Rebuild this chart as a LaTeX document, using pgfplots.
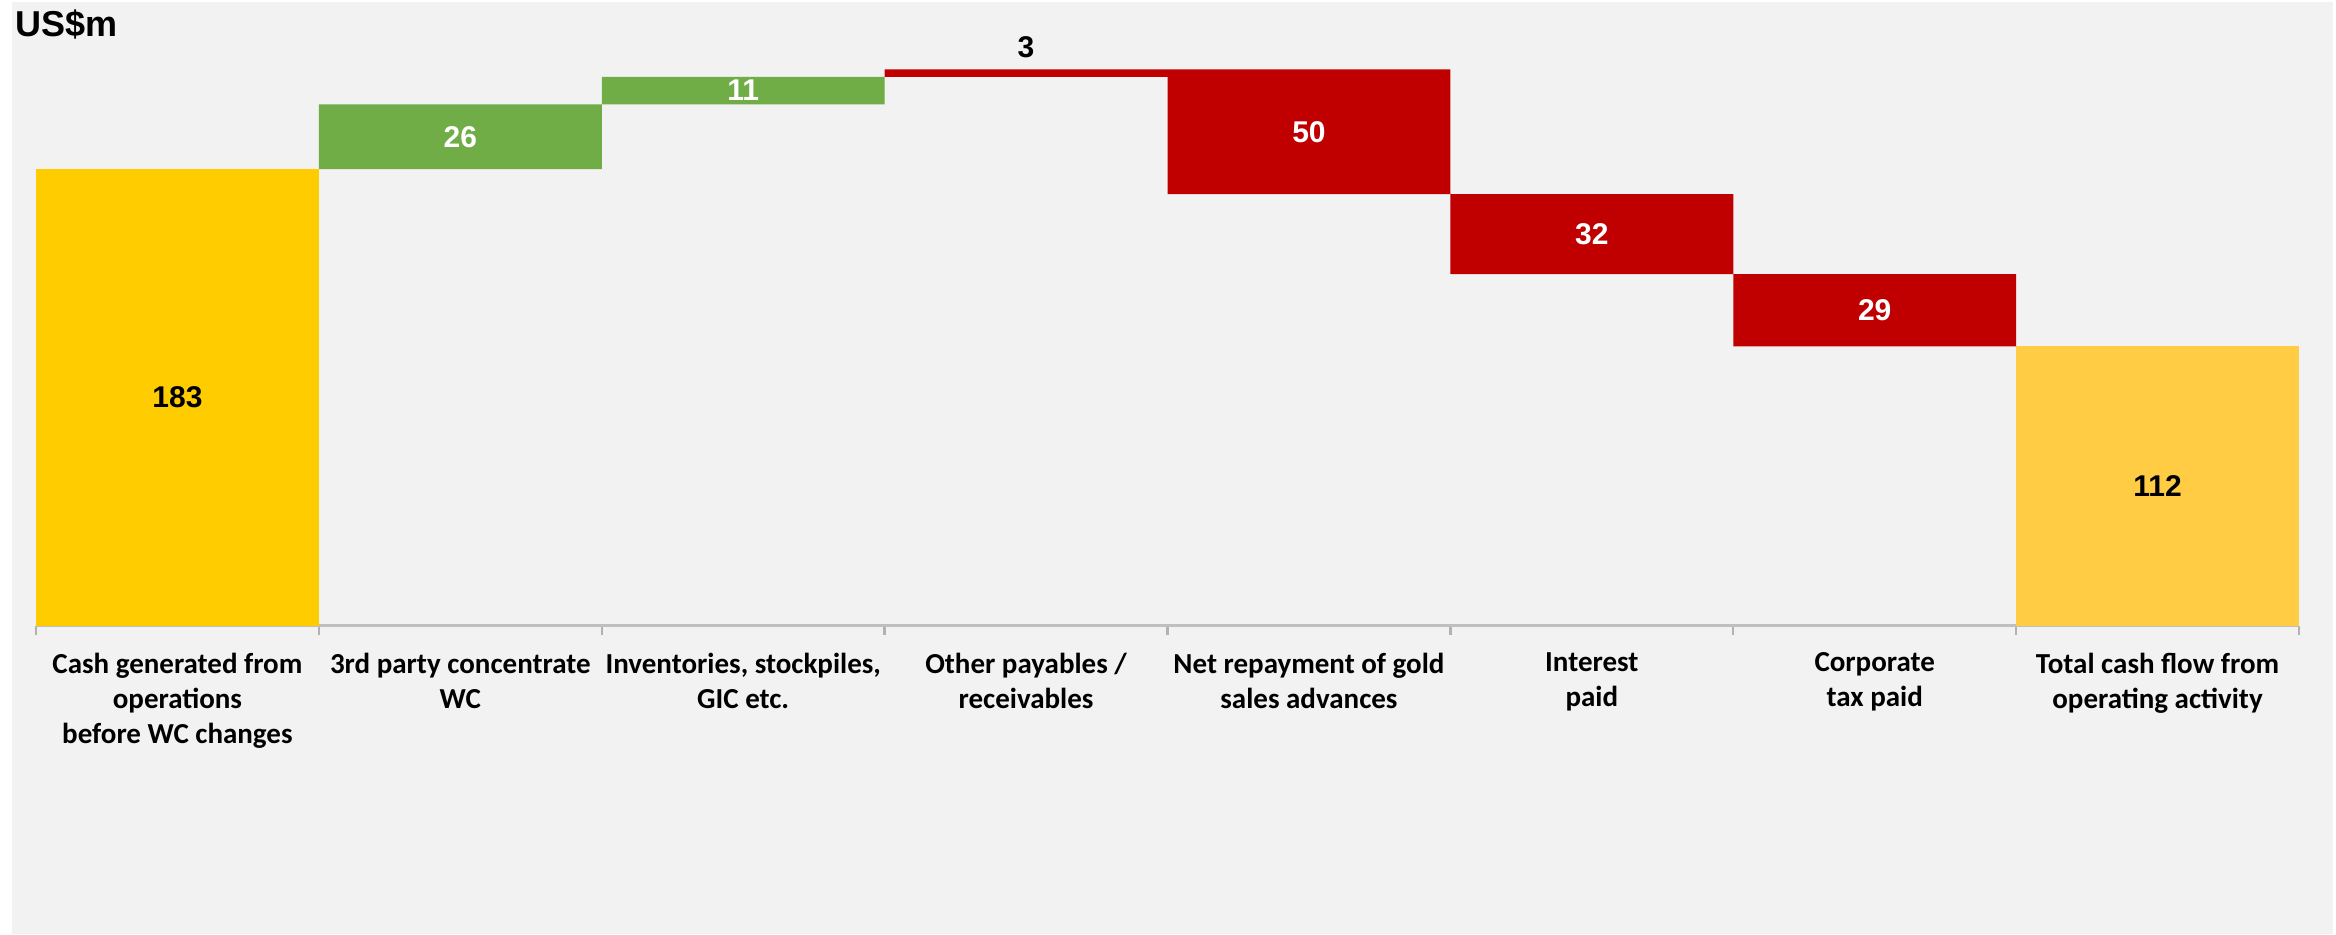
\documentclass[border=0pt]{standalone}
\usepackage{pgfplots}
\pgfplotsset{compat=1.18}
\usepackage{fontspec}
\setmainfont{Carlito}
\newfontfamily\arialfont{Liberation Sans}
\definecolor{bg}{HTML}{F2F2F2}
\definecolor{gold}{HTML}{FFCC00}
\definecolor{goldlt}{HTML}{FFCC44}
\definecolor{leaf}{HTML}{70AD47}
\definecolor{crimson}{HTML}{C00000}
\definecolor{axisgrey}{HTML}{BFBFBF}
\definecolor{tickgrey}{HTML}{B2B2B2}
\newcommand\valfont{\arialfont\bfseries\fontsize{9bp}{11bp}\selectfont}

\begin{document}
\begin{tikzpicture}
% page background: white frame, grey panel
\fill[white] (0,0) rectangle (700.8bp,280.2bp);
\fill[bg] (3.6bp,0) rectangle (699.9bp,279.6bp);
\node[anchor=base west, inner sep=0pt,
  font=\arialfont\bfseries\fontsize{10.8bp}{13bp}\selectfont] at (4.5bp,269.2bp) {US\$m};

\begin{axis}[
  at={(10.8bp,92.4bp)}, anchor=south west,
  scale only axis, width=678.9bp, height=187.2bp,
  xmin=-0.5, xmax=7.5, ymin=0, ymax=250,
  ybar stacked, bar width=1,
  axis x line=bottom, axis y line=none,
  axis line style={-, draw=axisgrey, line width=0.9bp},
  ytick=\empty,
  xtick={0,...,7}, major tick length=0pt,
  minor xtick={-0.5,0.5,...,7.5}, minor tick length=2.7bp, tick align=outside,
  minor tick style={draw=tickgrey, line width=0.7bp},
  xticklabels={
    {Cash generated from\\operations\\before WC changes},
    {3rd party concentrate\\WC},
    {Inventories, stockpiles,\\GIC etc.},
    {Other payables /\\receivables},
    {Net repayment of gold\\sales advances},
    {Interest\\paid},
    {Corporate\\tax paid},
    {Total cash flow from\\operating activity}},
  xticklabel style={align=center, inner sep=0pt, anchor=north, yshift=-7.8bp,
    font=\bfseries\fontsize{8.7bp}{10.5bp}\selectfont},
  clip=false,
]
  % invisible base of each floating bar
  \addplot[draw=none, fill=none] coordinates {
    (0,0) (1,183) (2,209) (3,220) (4,173) (5,141) (6,112) (7,0)};
  % opening cash
  \addplot[draw=none, fill=gold] coordinates {
    (0,183) (1,0) (2,0) (3,0) (4,0) (5,0) (6,0) (7,0)};
  % inflows
  \addplot[draw=none, fill=leaf] coordinates {
    (0,0) (1,26) (2,11) (3,0) (4,0) (5,0) (6,0) (7,0)};
  % outflows
  \addplot[draw=none, fill=crimson] coordinates {
    (0,0) (1,0) (2,0) (3,3) (4,50) (5,32) (6,29) (7,0)};
  % closing total
  \addplot[draw=none, fill=goldlt] coordinates {
    (0,0) (1,0) (2,0) (3,0) (4,0) (5,0) (6,0) (7,112)};

  % label anchors, drawn after the axis so they sit on top of the bars
  \coordinate (v0) at (axis cs:0,91.5);
  \coordinate (v1) at (axis cs:1,196);
  \coordinate (v2) at (axis cs:2,214.5);
  \coordinate (v3) at (axis cs:3,231.7);
  \coordinate (v4) at (axis cs:4,198);
  \coordinate (v5) at (axis cs:5,157);
  \coordinate (v6) at (axis cs:6,126.5);
  \coordinate (v7) at (axis cs:7,56);
\end{axis}
\node[font=\valfont] at (v0) {183};
\node[font=\valfont, white] at (v1) {26};
\node[font=\valfont, white] at (v2) {11};
\node[font=\valfont] at (v3) {3};
\node[font=\valfont, white] at (v4) {50};
\node[font=\valfont, white] at (v5) {32};
\node[font=\valfont, white] at (v6) {29};
\node[font=\valfont] at (v7) {112};
\pgfresetboundingbox
\useasboundingbox (0,0) rectangle (700.8bp,280.2bp);
\end{tikzpicture}
\end{document}
